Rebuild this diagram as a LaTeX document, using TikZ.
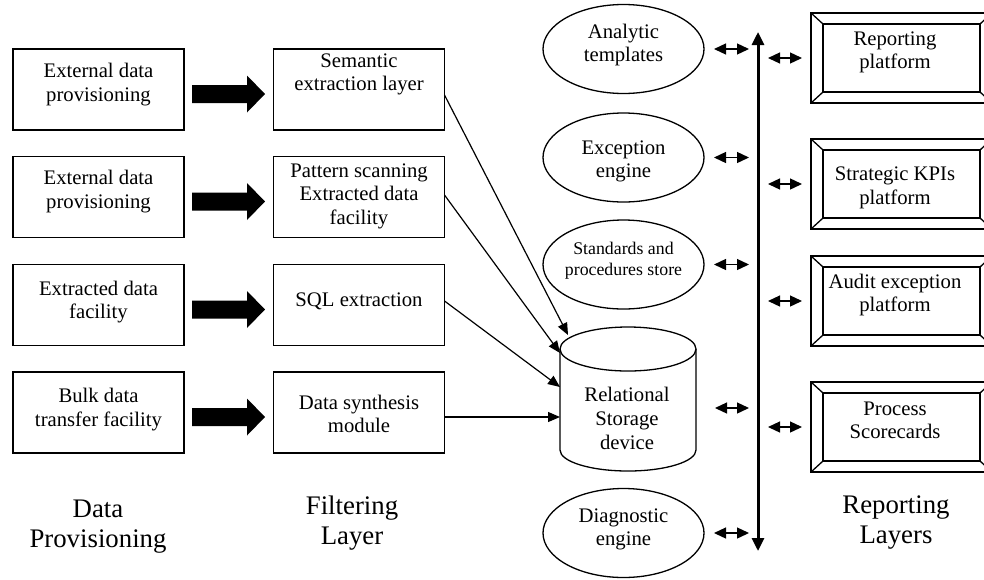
\documentclass[tikz,border=0pt]{standalone}
\usepackage{fontspec}
\setmainfont{Liberation Serif}
\usetikzlibrary{arrows.meta,shapes.geometric,calc}
\begin{document}
\begin{tikzpicture}[x=1pt,y=-1pt,
  bx/.style={draw, line width=1.3pt, rectangle, minimum width=171pt, minimum height=81pt, inner sep=0pt, outer sep=0pt},
  rbx/.style={draw, line width=1.3pt, rectangle, minimum width=181pt, minimum height=90pt, inner sep=0pt, outer sep=0pt},
  ell/.style={draw, line width=1.3pt, ellipse, minimum width=161pt, minimum height=89pt, inner sep=0pt, outer sep=0pt},
  txt/.style={align=center, inner sep=0pt, font=\fontsize{20.7}{23.5}\selectfont},
  stxt/.style={align=center, inner sep=0pt, font=\fontsize{17.8}{21}\selectfont},
  ltxt/.style={align=center, inner sep=0pt, font=\fontsize{26.8}{30}\selectfont},
  feed/.style={line width=1.2pt, -{Triangle[length=12pt,width=10pt]}},
  dbl/.style={line width=1.3pt, {Triangle[length=12pt,width=11pt]}-{Triangle[length=12pt,width=11pt]}},
  busline/.style={line width=3pt, {Triangle[length=13pt,width=12pt]}-{Triangle[length=13pt,width=12pt]}},
  blk/.style={fill=black},
  thinline/.style={line width=1.3pt}
]
\useasboundingbox (0,0) rectangle (984,579);
\clip (0,0) rectangle (984,579);

% Data provisioning boxes
\node[bx] (p1) at (98.5,89.5) {};
\node[bx] (p2) at (98.5,197) {};
\node[bx] (p3) at (98.5,305) {};
\node[bx] (p4) at (98.5,412.5) {};
\node[txt] (p1t) at (98.5,84.5) {External data\\provisioning};
\node[txt] (p2t) at (98.5,191.5) {External data\\provisioning};
\node[txt] (p3t) at (98.5,302) {Extracted data\\facility};
\node[txt] (p4t) at (98.5,409.5) {Bulk data\\transfer facility};

% Filtering boxes
\node[bx] (s1) at (359,89.5) {};
\node[bx] (s2) at (359,197) {};
\node[bx] (s3) at (359,305) {};
\node[bx] (s4) at (359,412.5) {};
\node[txt] (s1t) at (359,74.5) {Semantic\\extraction layer};
\node[txt] (s2t) at (359,196) {Pattern scanning\\Extracted data\\facility};
\node[txt] (s3t) at (359,301) {SQL extraction};
\node[txt] (s4t) at (359,414) {Data synthesis\\module};

% block arrows
\foreach \a in {p1,p2,p3,p4}
  \fill[blk] ($(\a.east)+(8,-4.5)$) -- ++(55,0) -- ++(0,-9.5) -- ++(18,18.5) -- ++(-18,18.5) -- ++(0,-9.5) -- ++(-55,0) -- cycle;

% ellipses
\node[ell] (a1) at (623.5,49) {};
\node[ell] (a2) at (623.5,157.5) {};
\node[ell] (a3) at (623.5,264.5) {};
\node[ell] (a4) at (623.5,533) {};
\node[txt] (a1t) at (623.5,45) {Analytic\\templates};
\node[txt] (a2t) at (623.5,161.5) {Exception\\engine};
\node[stxt] (a3t) at (623.5,260.5) {Standards and\\procedures store};
\node[txt] (a4t) at (623.5,529.5) {Diagnostic\\engine};

% cylinder
\node[draw=none, rectangle, minimum width=136pt, minimum height=144pt, inner sep=0pt, outer sep=0pt] (cyl) at (628,399) {};
\draw[thinline] (cyl.north) ++(0,22) ellipse [x radius=68pt, y radius=22pt];
\draw[thinline] ($(cyl.north west)+(0,22)$) -- ($(cyl.south west)+(0,-21)$)
  arc[start angle=180, end angle=360, x radius=68pt, y radius=21pt] -- ($(cyl.north east)+(0,22)$);
\node[txt, font=\fontsize{20.7}{24}\selectfont] (cylt) at (627,418) {Relational\\Storage\\device};

% feeds to storage
\draw[feed] ($(s1.east)+(0,5.5)$) -- ($(cyl.north west)+(8,8)$);
\draw[feed] ($(s2.east)+(0,-2)$) -- ($(cyl.north west)+(0,26)$);
\draw[feed] ($(s3.east)+(0,-4)$) -- ($(cyl.north west)+(0,60)$);
\draw[feed] ($(s4.east)+(0,4.5)$) -- ($(cyl.north west)+(0,90)$);

% reporting boxes
\node[rbx] (r1) at (901.5,58) {};
\node[rbx] (r2) at (901.5,184) {};
\node[rbx] (r3) at (901.5,301) {};
\node[rbx] (r4) at (901.5,427) {};
\foreach \n in {r1,r2,r3,r4}{
  \draw[thinline] ($(\n.north west)+(12,11)$) rectangle ($(\n.south east)+(-12,-11)$);
  \draw[thinline] (\n.north west) -- ++(12,11) (\n.north east) -- ++(-12,11)
                  (\n.south west) -- ++(12,-11) (\n.south east) -- ++(-12,-11);
}
\node[txt] (r1t) at (895,52.5) {Reporting\\platform};
\node[txt] (r2t) at (895,188) {Strategic KPIs\\platform};
\node[txt] (r3t) at (895,295) {Audit exception\\platform};
\node[txt] (r4t) at (895,420.5) {Process\\Scorecards};

% bus
\coordinate (bustop) at (758,32);
\coordinate (busbot) at (758,551);
\draw[busline] (busbot) -- (bustop);

% double arrows
\foreach \n in {a1,a2,a3,a4}
  \draw[dbl, shorten <=10pt, shorten >=9pt] (\n.east) -- (\n.east -| bustop);
\coordinate (cylport) at ($(cyl.east)+(0,9)$);
\draw[dbl, shorten <=19pt, shorten >=9pt] (cylport) -- (cylport -| bustop);
\foreach \n in {r1,r2,r3,r4}
  \draw[dbl, shorten <=10pt, shorten >=9pt] (\n.west -| bustop) -- (\n.west);

% layer labels
\node[ltxt] (lab1) at (98,527) {Data\\Provisioning};
\node[ltxt] (lab2) at (352,523) {Filtering\\Layer};
\node[ltxt] (lab3) at (896,523) {Reporting\\Layers};
\end{tikzpicture}
\end{document}
